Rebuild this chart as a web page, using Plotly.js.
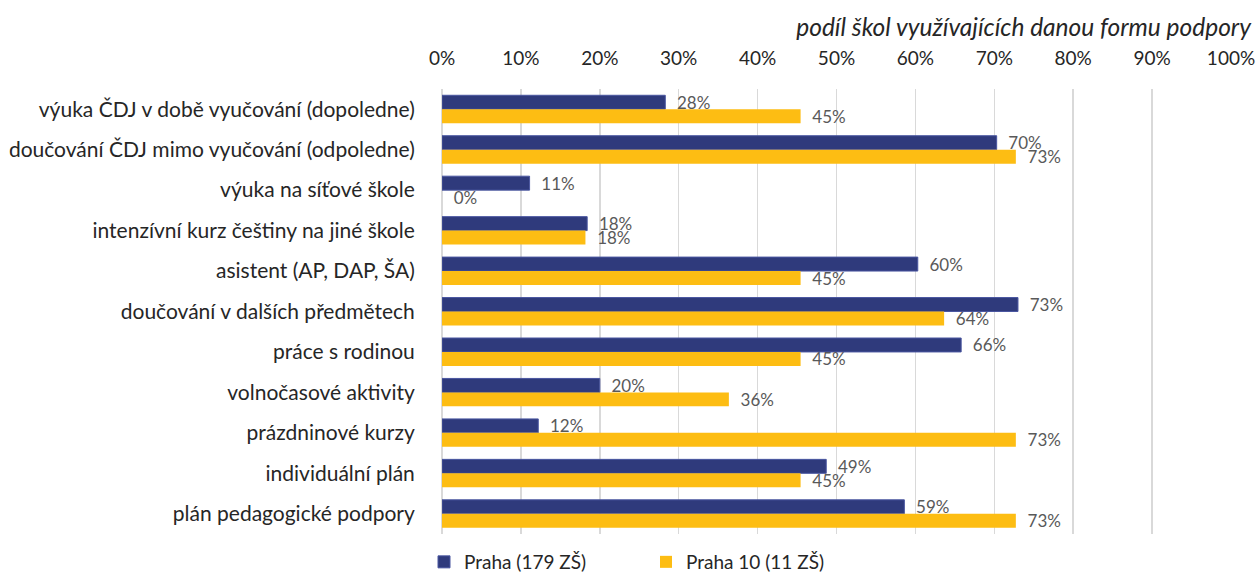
<!DOCTYPE html>
<html>
<head>
<meta charset="utf-8">
<script src="https://cdn.plot.ly/plotly-3.0.1.min.js"></script>
<style>
html,body{margin:0;padding:0;background:#fff;}
#chart{width:1258px;height:572px;}
</style>
</head>
<body>
<div id="chart"></div>
<script>
const categories = [
  "výuka ČDJ v době vyučování (dopoledne)",
  "doučování ČDJ mimo vyučování (odpoledne)",
  "výuka na síťové škole",
  "intenzívní kurz češtiny na jiné škole",
  "asistent (AP, DAP, ŠA)",
  "doučování v dalších předmětech",
  "práce s rodinou",
  "volnočasové aktivity",
  "prázdninové kurzy",
  "individuální plán",
  "plán pedagogické podpory"
];
const seriesNames = ["Praha (179 ZŠ)", "Praha 10 (11 ZŠ)"];
const praha = [28.3, 70.3, 11.1, 18.4, 60.3, 73.0, 65.8, 20.0, 12.2, 48.7, 58.6];
const praha10 = [45.45, 72.73, 0, 18.18, 45.45, 63.64, 45.45, 36.36, 72.73, 45.45, 72.73];
const tickVals = [0,10,20,30,40,50,60,70,80,90,100];

const FONT = "Lato, 'Open Sans', sans-serif";
const mk = (name, vals, color, lineColor, lw) => ({
  type: 'bar',
  orientation: 'h',
  name: name,
  y: categories,
  x: vals,
  marker: {color: color, line: {color: lineColor, width: lw}},
  texttemplate: '\u00a0\u00a0%{x:.0f}%',
  textposition: 'outside',
  constraintext: 'none',
  cliponaxis: false,
  textfont: {family: FONT, size: 17, color: '#595959'},
  hoverinfo: 'skip'
});

const data = [
  mk(seriesNames[0], praha, '#2F3A7C', '#4a56a0', 1),
  mk(seriesNames[1], praha10, '#FDBD13', '#FDBD13', 0)
];

const layout = {
  width: 1258, height: 572,
  margin: {l: 442, r: 27, t: 89, b: 38, pad: 0},
  paper_bgcolor: '#fff', plot_bgcolor: '#fff',
  barmode: 'group',
  bargap: 0.31,
  bargroupgap: 0,
  showlegend: true,
  legend: {
    orientation: 'h',
    x: 424/1258, xanchor: 'left', xref: 'container',
    y: 10/572, yanchor: 'middle', yref: 'container',
    font: {family: FONT, size: 19, color: '#262626'},
    entrywidth: 177, entrywidthmode: 'pixels',
    itemwidth: 30,
    traceorder: 'normal'
  },
  title: {
    text: '<i>podíl škol využívajících danou formu podpory</i>',
    font: {family: FONT, size: 24.5, color: '#262626'},
    x: 1251/1258, xref: 'container', xanchor: 'right',
    y: 1 - 27/572, yref: 'container', yanchor: 'middle'
  },
  xaxis: {
    side: 'top',
    range: [0, 100],
    tickvals: tickVals,
    ticktext: tickVals.map(v => v + '%'),
    showgrid: true,
    gridcolor: '#d9d9d9',
    gridwidth: 1.5,
    zeroline: true,
    zerolinecolor: '#d9d9d9',
    zerolinewidth: 1.5,
    showline: false,
    ticks: 'outside', ticklen: 15, tickcolor: 'rgba(0,0,0,0)',
    tickfont: {family: FONT, size: 19, color: '#262626'},
    fixedrange: true
  },
  yaxis: {
    autorange: 'reversed',
    type: 'category',
    showgrid: false,
    zeroline: false,
    showline: false,
    ticks: 'outside', ticklen: 22, tickcolor: 'rgba(0,0,0,0)',
    tickfont: {family: FONT, size: 21, color: '#262626'},
    fixedrange: true
  }
};

Plotly.newPlot('chart', data, layout, {displayModeBar: false, staticPlot: true});
</script>
</body>
</html>
